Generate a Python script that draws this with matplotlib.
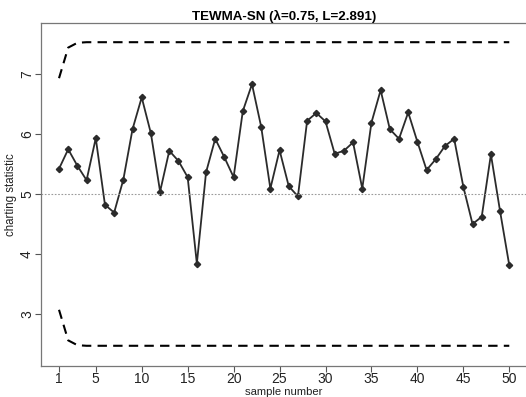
import matplotlib.pyplot as plt

plt.rcParams["font.family"] = ["Liberation Sans", "DejaVu Sans"]

# charting statistic per sample
sample = list(range(1, 51))
stat = [5.42, 5.745, 5.47, 5.23, 5.93, 4.82, 4.69, 5.24, 6.08, 6.61,
        6.01, 5.04, 5.72, 5.55, 5.28, 3.84, 5.36, 5.92, 5.61, 5.28,
        6.38, 6.83, 6.12, 5.09, 5.73, 5.13, 4.96, 6.22, 6.35, 6.21,
        5.67, 5.72, 5.86, 5.09, 6.19, 6.73, 6.08, 5.92, 6.36, 5.87,
        5.40, 5.58, 5.80, 5.92, 5.12, 4.50, 4.62, 5.66, 4.71, 3.81]

# control limits (time-varying at the start, then steady)
ucl = [6.93, 7.44, 7.52] + [7.53] * 47
lcl = [3.07, 2.56, 2.48] + [2.47] * 47
center = 5.0

fig = plt.figure(figsize=(5.26, 3.97), dpi=100)
ax = fig.add_axes([41 / 526, 31 / 397, 486.3 / 526, 343 / 397])

ax.plot(sample, stat, color="#2b2b2b", lw=1.3, marker="D", ms=3.2,
        mfc="#2b2b2b", mec="#2b2b2b")
ax.plot(sample, ucl, color="black", lw=1.5, ls=(0, (4.5, 3)))
ax.plot(sample, lcl, color="black", lw=1.5, ls=(0, (4.5, 3)))
ax.axhline(center, color="#9a9a9a", lw=0.8, ls=(0, (1.5, 1.5)))

ax.set_xlim(-0.96, 51.96)
ax.set_ylim(2.133, 7.85)
ax.set_xticks([1, 5, 10, 15, 20, 25, 30, 35, 40, 45, 50])
ax.set_yticks([3, 4, 5, 6, 7])
ax.tick_params(direction="out", length=4, width=0.8, color="#555555",
               labelsize=10, labelcolor="#222222")
ax.tick_params(axis="x", pad=0.5)
ax.tick_params(axis="y", pad=1)
for lab in ax.get_yticklabels():
    lab.set_rotation(90)
    lab.set_va("center")
for sp in ax.spines.values():
    sp.set_color("#777777")
    sp.set_linewidth(0.9)

ax.set_xlabel("sample number", fontsize=8.1, color="#222222", labelpad=0.2)
ax.set_ylabel("charting statistic", fontsize=8.3, color="#222222", labelpad=2.5)
ax.set_title("TEWMA-SN (\u03bb=0.75, L=2.891)", fontsize=9.6,
             fontweight="bold", pad=2)

fig.savefig("out.png", dpi=100)
